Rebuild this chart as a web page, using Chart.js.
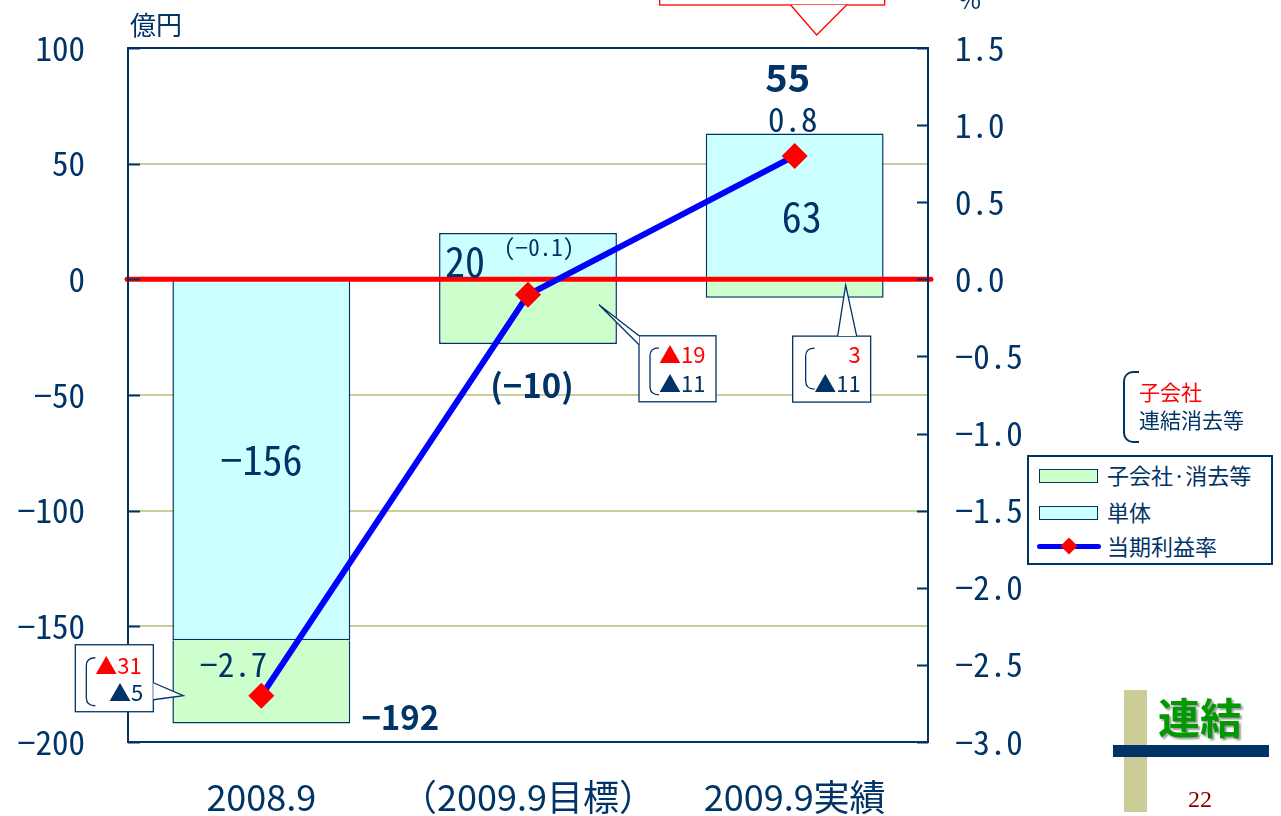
<!DOCTYPE html>
<html>
<head>
<meta charset="utf-8">
<script src="https://cdn.jsdelivr.net/npm/chart.js@4.4.0/dist/chart.umd.min.js"></script>
<style>
  html, body { margin: 0; padding: 0; background: #fff; }
  #wrap { position: relative; width: 1281px; height: 816px; overflow: hidden;
          font-family: "Noto Sans CJK JP", sans-serif; color: #003366; }
  #chart { position: absolute; left: 0; top: 0; }
  .abs { position: absolute; white-space: nowrap; line-height: 1; }
  #legend { left: 1027px; top: 455px; width: 242px; height: 106px; border: 2px solid #003366; background: #fff; }
  .item { position: absolute; left: 0; height: 30px; width: 242px; font-size: 22px; }
  .sw { position: absolute; left: 10px; top: 8px; width: 57px; height: 12px; border: 1.5px solid #003366; }
  .lbl { position: absolute; left: 78px; top: 2px; }
</style>
</head>
<body>
<div id="wrap">
  <canvas id="chart" width="1281" height="816"></canvas>
  <div class="abs" style="left:130px;top:11px;font-size:26px;">億円</div>
  <div class="abs" style="left:958px;top:-14px;font-size:25px;">%</div>

  <div class="abs" style="left:1123px;top:371px;width:14px;height:68px;border-left:2px solid #003366;border-top:2px solid #003366;border-bottom:2px solid #003366;border-radius:10px 0 0 10px;border-right:none;"></div>
  <div class="abs" style="left:1139px;top:381px;font-size:21px;color:#ff0000;">子会社</div>
  <div class="abs" style="left:1139px;top:409px;font-size:21px;">連結消去等</div>

  <div id="legend" class="abs">
    <div class="item" style="top:4px;"><div class="sw" style="background:#ccffcc;"></div><div class="lbl">子会社·消去等</div></div>
    <div class="item" style="top:41px;"><div class="sw" style="background:#ccffff;"></div><div class="lbl">単体</div></div>
    <div class="item" style="top:75px;">
      <div class="abs" style="left:8px;top:12px;width:64px;height:5px;background:#0000ff;border-radius:3px;"></div>
      <div class="abs" style="left:34px;top:8px;width:12px;height:12px;background:#ff0000;transform:rotate(45deg);"></div>
      <div class="lbl">当期利益率</div>
    </div>
  </div>

  <div class="abs" style="left:1124px;top:690px;width:23px;height:122px;background:#cccc99;"></div>
  <div class="abs" style="left:1113px;top:745px;width:156px;height:12px;background:#003366;"></div>
  <div class="abs" style="left:1158px;top:695px;font-size:42px;font-weight:bold;color:#009900;text-shadow:2px 2px 2px #999;">連結</div>
  <div class="abs" style="left:1188px;top:787px;font-size:24px;color:#800000;font-family:'Liberation Serif',serif;">22</div>
</div>
<script>
// data
const categories = ['2008.9', '（2009.9目標）', '2009.9実績'];
const tantai = [-156, 20, 63];          // 単体 (億円)
const kogaisha = [-36, -28, -8];        // 子会社·消去等 (億円)
const riekiritsu = [-2.7, -0.1, 0.8];   // 当期利益率 (%)
const totalLabels = ['−192', '(−10)', '55'];
const tantaiLabels = ['−156', '20', '63'];
const rateLabels = ['−2.7', '(−0.1)', '0.8'];
const calloutKogaisha = ['▲31', '▲19', '3'];
const calloutRenketsu = ['▲5', '▲11', '▲11'];

const NAVY = '#003366';
const MONO = '"Noto Sans Mono CJK JP", "DejaVu Sans Mono", monospace';
const SANS = '"Noto Sans CJK JP", sans-serif';

function minus(s) { return String(s).replace('-', '−'); }

function callout(ctx, box, pts, lineColor) {
  ctx.save();
  ctx.fillStyle = '#fff';
  ctx.strokeStyle = lineColor || NAVY;
  ctx.lineWidth = 1.3;
  ctx.fillRect(box.x, box.y, box.w, box.h);
  ctx.strokeRect(box.x, box.y, box.w, box.h);
  ctx.beginPath();
  ctx.moveTo(pts[0][0], pts[0][1]);
  ctx.lineTo(pts[1][0], pts[1][1]);
  ctx.lineTo(pts[2][0], pts[2][1]);
  ctx.closePath();
  ctx.fill();
  ctx.beginPath();
  ctx.moveTo(pts[0][0], pts[0][1]);
  ctx.lineTo(pts[1][0], pts[1][1]);
  ctx.lineTo(pts[2][0], pts[2][1]);
  ctx.stroke();
  ctx.restore();
}

function bracket(ctx, x, top, bottom) {
  ctx.save();
  ctx.strokeStyle = NAVY;
  ctx.lineWidth = 1.3;
  ctx.beginPath();
  ctx.moveTo(x + 9, top);
  ctx.quadraticCurveTo(x, top, x, top + 8);
  ctx.lineTo(x, bottom - 8);
  ctx.quadraticCurveTo(x, bottom, x + 9, bottom);
  ctx.stroke();
  ctx.restore();
}

function text(ctx, str, x, y, font, color, align) {
  ctx.save();
  ctx.font = font;
  ctx.fillStyle = color || NAVY;
  ctx.textAlign = align || 'center';
  ctx.textBaseline = 'middle';
  ctx.fillText(str, x, y);
  ctx.restore();
}

const decorations = {
  id: 'decorations',
  beforeDatasetDraw(chart, args) {
    if (args.index !== 2) return;
    const { ctx, chartArea: a, scales: { y } } = chart;
    const y0 = y.getPixelForValue(0);
    ctx.save();
    ctx.strokeStyle = '#ff0000';
    ctx.lineWidth = 5;
    ctx.lineCap = 'round';
    ctx.beginPath();
    ctx.moveTo(a.left - 1, y0);
    ctx.lineTo(a.right + 3, y0);
    ctx.stroke();
    ctx.restore();
  },
  afterDraw(chart) {
    const { ctx, chartArea: a, scales: { x, y, y1 } } = chart;
    // plot frame + inner tick marks
    ctx.save();
    ctx.strokeStyle = NAVY;
    ctx.lineWidth = 2;
    ctx.strokeRect(a.left, a.top, a.right - a.left, a.bottom - a.top);
    ctx.beginPath();
    y.ticks.forEach(t => {
      const p = Math.round(y.getPixelForValue(t.value)) + 0.5;
      ctx.moveTo(a.left, p); ctx.lineTo(a.left + 12, p);
    });
    y1.ticks.forEach(t => {
      const p = Math.round(y1.getPixelForValue(t.value)) + 0.5;
      ctx.moveTo(a.right - 11, p); ctx.lineTo(a.right, p);
    });
    ctx.stroke();
    ctx.restore();

    const cx = i => x.getPixelForValue(i);
    const Y = v => y.getPixelForValue(v);
    const pts = chart.getDatasetMeta(2).data;

    // value labels
    text(ctx, tantaiLabels[0], cx(0), Y(tantai[0] / 2), '40px ' + MONO);
    text(ctx, tantaiLabels[1], cx(1) - 63, Y(tantai[1] / 2) + 6, '40px ' + MONO);
    text(ctx, tantaiLabels[2], cx(2) + 7, Y(tantai[2] / 2) + 10, '40px ' + MONO);
    text(ctx, totalLabels[0], cx(0) + 139, Y(tantai[0] + kogaisha[0]) - 6, 'bold 33px ' + SANS);
    text(ctx, totalLabels[1], cx(1) + 4, Y(kogaisha[1]) + 41, 'bold 33px ' + SANS);
    text(ctx, totalLabels[2], cx(2) - 7, Y(tantai[2]) - 56, 'bold 38px ' + SANS);
    text(ctx, rateLabels[0], pts[0].x - 28, pts[0].y - 31, '33px ' + MONO);
    text(ctx, rateLabels[1], pts[1].x + 11, pts[1].y - 47, '23px ' + MONO);
    text(ctx, rateLabels[2], pts[2].x - 2, pts[2].y - 37, '33px ' + MONO);

    // callout 1
    let tx = cx(0) - 78, ty = Y(-180);
    callout(ctx, { x: tx - 108, y: ty - 51, w: 78, h: 67 },
      [[tx - 30, ty - 13], [tx, ty], [tx - 30, ty + 4]]);
    bracket(ctx, tx - 97, ty - 38, ty + 10);
    text(ctx, calloutKogaisha[0], tx - 88, ty - 30, '22px ' + SANS, '#ff0000', 'left');
    text(ctx, calloutRenketsu[0], tx - 40, ty - 3, '22px ' + SANS, NAVY, 'right');

    // callout 2
    tx = cx(1) + 71; ty = Y(-11);
    callout(ctx, { x: tx + 40, y: ty + 31, w: 77, h: 66 },
      [[tx + 40, ty + 31], [tx, ty], [tx + 40, ty + 40]]);
    bracket(ctx, tx + 51, ty + 43, ty + 90);
    text(ctx, calloutKogaisha[1], tx + 60, ty + 50, '22px ' + SANS, '#ff0000', 'left');
    text(ctx, calloutRenketsu[1], tx + 60, ty + 79, '22px ' + SANS, NAVY, 'left');

    // callout 3
    tx = cx(2) + 51; ty = Y(-2.5);
    callout(ctx, { x: tx - 53, y: ty + 51, w: 78, h: 66 },
      [[tx - 8, ty + 51], [tx, ty], [tx + 11, ty + 51]]);
    bracket(ctx, tx - 40, ty + 63, ty + 104);
    text(ctx, calloutKogaisha[2], tx + 15, ty + 70, '22px ' + SANS, '#ff0000', 'right');
    text(ctx, calloutRenketsu[2], tx + 15, ty + 99, '22px ' + SANS, NAVY, 'right');

    // red callout at the top edge
    tx = cx(2) + 22; ty = a.top - 13;
    callout(ctx, { x: tx - 157, y: ty - 60, w: 225, h: 30 },
      [[tx - 26, ty - 30], [tx, ty], [tx + 30, ty - 30]], '#ff0000');
  }
};

new Chart(document.getElementById('chart'), {
  data: {
    labels: categories,
    datasets: [
      {
        type: 'bar', label: '単体', data: tantai, yAxisID: 'y', order: 1,
        backgroundColor: '#ccffff', borderColor: NAVY, borderWidth: 1.5,
        categoryPercentage: 1, barPercentage: 0.667, stack: 's'
      },
      {
        type: 'bar', label: '子会社·消去等', data: kogaisha, yAxisID: 'y', order: 1,
        backgroundColor: '#ccffcc', borderColor: NAVY, borderWidth: 1.5,
        categoryPercentage: 1, barPercentage: 0.667, stack: 's'
      },
      {
        type: 'line', label: '当期利益率', data: riekiritsu, yAxisID: 'y1', order: 0,
        borderColor: '#0000ff', borderWidth: 6, backgroundColor: '#ff0000',
        pointStyle: 'rectRot', pointRadius: 13, pointBorderWidth: 0,
        pointBackgroundColor: '#ff0000', tension: 0
      }
    ]
  },
  options: {
    responsive: false,
    animation: false,
    devicePixelRatio: 1,
    layout: { padding: { top: 48, left: 0, right: 0, bottom: 0 } },
    plugins: { legend: { display: false }, tooltip: { enabled: false } },
    scales: {
      x: {
        stacked: true,
        grid: { display: false, drawTicks: false },
        border: { display: false },
        ticks: { color: NAVY, font: { family: SANS, size: 36 }, padding: 34 },
        afterFit: s => { s.height = 74; }
      },
      y: {
        stacked: true, position: 'left', min: -200, max: 100,
        grid: {
          drawTicks: true, tickLength: 43, tickColor: 'rgba(0,0,0,0)', lineWidth: 2,
          color: c => (c.tick.value === 0 || c.tick.value === 100 || c.tick.value === -200) ? 'rgba(0,0,0,0)' : '#cccc99'
        },
        border: { display: false },
        ticks: { stepSize: 50, color: NAVY, font: { family: MONO, size: 33 }, padding: 0,
                 callback: v => minus(v) },
        afterFit: s => { s.width = 128; }
      },
      y1: {
        position: 'right', min: -3, max: 1.5,
        grid: { display: false, drawTicks: true, tickLength: 27, tickColor: 'rgba(0,0,0,0)' },
        border: { display: false },
        ticks: { stepSize: 0.5, color: NAVY, font: { family: MONO, size: 33 }, padding: 0,
                 callback: v => minus(Number(v).toFixed(1)) },
        afterFit: s => { s.width = 353; }
      }
    }
  },
  plugins: [decorations]
});
</script>
</body>
</html>
